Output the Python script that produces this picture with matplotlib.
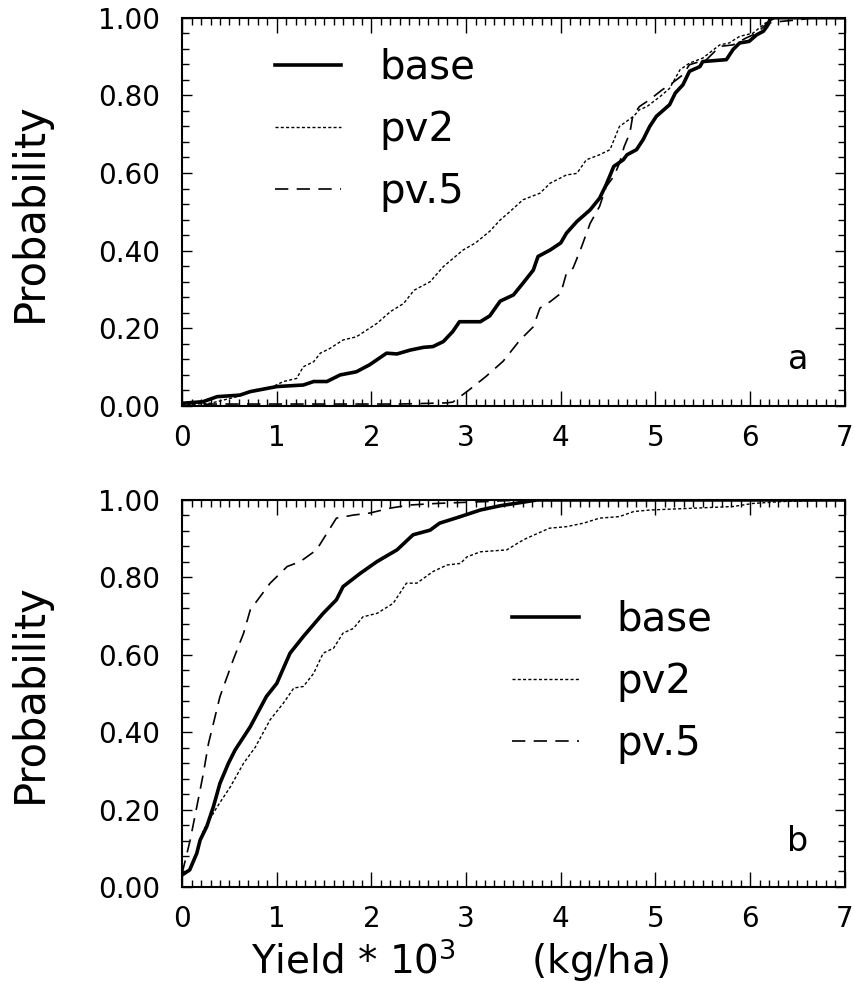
import numpy as np
import matplotlib
matplotlib.use('Agg')
import matplotlib.pyplot as plt
from matplotlib.ticker import MultipleLocator, FormatStrFormatter

# panel a: cumulative probability of yield (x = yield * 10^3 kg/ha)
a_base_x = [0.0, 0.22, 0.37, 0.61, 0.72, 1.0, 1.28, 1.39, 1.53, 1.67, 1.84, 1.98, 2.16, 2.27, 2.41,
            2.55, 2.65, 2.76, 2.86, 2.93, 3.15, 3.25, 3.36, 3.5, 3.6, 3.71, 3.76, 3.89, 4.0, 4.06,
            4.17, 4.31, 4.41, 4.48, 4.56, 4.66, 4.7, 4.8, 4.87, 4.94, 5.01, 5.15, 5.21, 5.29, 5.36,
            5.47, 5.5, 5.75, 5.82, 5.89, 5.99, 6.07, 6.14, 6.18, 6.21, 6.25, 7.0]
a_base_y = [0.007, 0.011, 0.024, 0.028, 0.037, 0.05, 0.054, 0.063, 0.063, 0.08, 0.088, 0.106, 0.136,
            0.134, 0.144, 0.151, 0.153, 0.166, 0.192, 0.217, 0.217, 0.232, 0.27, 0.286, 0.316, 0.35,
            0.385, 0.402, 0.42, 0.445, 0.475, 0.505, 0.535, 0.57, 0.617, 0.634, 0.647, 0.66, 0.686,
            0.72, 0.746, 0.776, 0.806, 0.827, 0.862, 0.874, 0.887, 0.892, 0.918, 0.935, 0.939, 0.956,
            0.965, 0.978, 0.995, 1.0, 1.0]

a_pv2_x = [0.0, 0.3, 0.58, 0.75, 0.96, 1.07, 1.21, 1.28, 1.39, 1.46, 1.56, 1.7, 1.84, 2.06, 2.2, 2.34,
           2.45, 2.62, 2.76, 2.97, 3.1, 3.25, 3.36, 3.46, 3.6, 3.78, 3.89, 4.06, 4.17, 4.27, 4.41,
           4.52, 4.62, 4.77, 4.83, 4.91, 5.05, 5.15, 5.26, 5.36, 5.5, 5.68, 5.78, 5.89, 6.03, 6.14,
           6.21, 6.28, 7.0]
a_pv2_y = [0.003, 0.007, 0.024, 0.041, 0.05, 0.063, 0.071, 0.101, 0.114, 0.136, 0.148, 0.17, 0.178,
           0.213, 0.243, 0.264, 0.298, 0.32, 0.359, 0.402, 0.42, 0.45, 0.479, 0.5, 0.531, 0.548, 0.574,
           0.595, 0.599, 0.634, 0.647, 0.66, 0.72, 0.746, 0.763, 0.771, 0.797, 0.818, 0.866, 0.883,
           0.896, 0.93, 0.935, 0.952, 0.96, 0.982, 0.995, 1.0, 1.0]

a_pv5_x = [0.0, 0.3, 1.0, 2.3, 2.8, 2.86, 3.03, 3.21, 3.39, 3.57, 3.71, 3.78, 3.89, 4.0, 4.06, 4.13,
           4.22, 4.31, 4.41, 4.48, 4.56, 4.62, 4.67, 4.73, 4.76, 4.83, 4.94, 5.07, 5.18, 5.29, 5.36,
           5.54, 5.68, 5.82, 5.96, 6.07, 6.18, 6.31, 6.53, 6.67, 7.0]
a_pv5_y = [0.0, 0.005, 0.005, 0.005, 0.008, 0.01, 0.041, 0.076, 0.115, 0.17, 0.204, 0.252, 0.269, 0.29,
           0.342, 0.355, 0.41, 0.47, 0.514, 0.565, 0.591, 0.625, 0.668, 0.703, 0.746, 0.771, 0.789,
           0.814, 0.832, 0.853, 0.879, 0.892, 0.926, 0.93, 0.948, 0.96, 0.986, 0.99, 0.995, 1.0, 1.0]

# panel b
b_base_x = [0.0, 0.08, 0.155, 0.19, 0.26, 0.33, 0.4, 0.49, 0.56, 0.72, 0.89, 1.0, 1.14, 1.28, 1.49,
            1.63, 1.7, 1.88, 2.06, 2.27, 2.44, 2.62, 2.72, 2.94, 3.15, 3.36, 3.57, 3.75, 7.0]
b_base_y = [0.031, 0.044, 0.087, 0.121, 0.156, 0.207, 0.268, 0.32, 0.354, 0.414, 0.492, 0.526, 0.604,
            0.647, 0.707, 0.742, 0.776, 0.81, 0.841, 0.871, 0.91, 0.922, 0.94, 0.957, 0.974, 0.985,
            0.993, 1.0, 1.0]

b_pv2_x = [0.0, 0.08, 0.155, 0.19, 0.225, 0.37, 0.51, 0.65, 0.77, 0.93, 1.07, 1.18, 1.28, 1.39, 1.49,
           1.6, 1.7, 1.81, 1.91, 2.06, 2.23, 2.37, 2.48, 2.65, 2.8, 2.94, 3.01, 3.15, 3.43, 3.57,
           3.64, 3.88, 4.06, 4.24, 4.41, 4.62, 4.77, 4.94, 5.33, 5.82, 6.03, 6.35, 6.88, 7.0]
b_pv2_y = [0.031, 0.044, 0.087, 0.121, 0.147, 0.207, 0.259, 0.32, 0.36, 0.432, 0.475, 0.514, 0.518,
           0.552, 0.604, 0.617, 0.656, 0.668, 0.698, 0.707, 0.733, 0.785, 0.785, 0.815, 0.832, 0.836,
           0.853, 0.866, 0.871, 0.892, 0.901, 0.927, 0.931, 0.94, 0.953, 0.957, 0.97, 0.974, 0.978,
           0.983, 0.991, 0.996, 1.0, 1.0]

b_pv5_x = [0.0, 0.085, 0.155, 0.225, 0.278, 0.4, 0.54, 0.65, 0.72, 0.93, 1.11, 1.25, 1.42, 1.53, 1.63,
           1.81, 1.98, 2.2, 2.41, 2.69, 3.22, 3.6, 7.0]
b_pv5_y = [0.035, 0.121, 0.207, 0.294, 0.37, 0.492, 0.587, 0.656, 0.716, 0.785, 0.828, 0.841, 0.871,
           0.914, 0.953, 0.961, 0.966, 0.979, 0.987, 0.991, 0.996, 1.0, 1.0]

labels = ['base', 'pv2', 'pv.5']
yticks = [0.0, 0.2, 0.4, 0.6, 0.8, 1.0]

plt.rcParams['font.family'] = 'DejaVu Sans'

fig = plt.figure(figsize=(8.55, 9.83), dpi=100)
ax1 = fig.add_axes([0.213, 0.587, 0.775, 0.395])
ax2 = fig.add_axes([0.213, 0.0977, 0.775, 0.3937])

styles = [dict(color='black', lw=2.6, linestyle='-'),
          dict(color='black', lw=1.0, linestyle=(0, (2.2, 1.6))),
          dict(color='black', lw=1.2, linestyle=(0, (8, 5)))]

panels = [(ax1, [(a_base_x, a_base_y), (a_pv2_x, a_pv2_y), (a_pv5_x, a_pv5_y)], 'a', (0.14, 0.922)),
          (ax2, [(b_base_x, b_base_y), (b_pv2_x, b_pv2_y), (b_pv5_x, b_pv5_y)], 'b', (0.498, 0.742))]

for ax, series, letter, legpos in panels:
    for (xs, ys), lab, st in zip(series, labels, styles):
        ax.plot(xs, ys, label=lab, **st)
    ax.set_xlim(0, 7)
    ax.set_ylim(0, 1)
    ax.set_yticks(yticks)
    ax.yaxis.set_major_formatter(FormatStrFormatter('%.2f'))
    ax.xaxis.set_major_locator(MultipleLocator(1))
    ax.xaxis.set_minor_locator(MultipleLocator(0.1))
    ax.yaxis.set_minor_locator(MultipleLocator(0.04))
    ax.tick_params(which='both', direction='in', top=True, right=True, width=1.0, labelsize=20)
    ax.tick_params(axis='x', which='major', length=11, pad=13)
    ax.tick_params(axis='x', which='minor', length=5)
    ax.tick_params(axis='y', which='major', length=7, pad=16)
    ax.tick_params(axis='y', which='minor', length=5)
    for sp in ax.spines.values():
        sp.set_linewidth(1.5)
    ax.set_ylabel('Probability', fontsize=30, va='center')
    ax.yaxis.set_label_coords(-0.229, 0.5)
    ax.text(0.929, 0.094, letter, transform=ax.transAxes, fontsize=24, ha='center', va='baseline')
    ax.legend(loc='upper left', bbox_to_anchor=legpos, frameon=False, fontsize=29,
              handlelength=1.65, handletextpad=0.95, labelspacing=0.55, borderpad=0, borderaxespad=0)

ax2.set_xlabel('Yield * 10$^3$      (kg/ha)', fontsize=28, va='center')
ax2.xaxis.set_label_coords(0.42, -0.19)

fig.savefig('out.png', dpi=100)
